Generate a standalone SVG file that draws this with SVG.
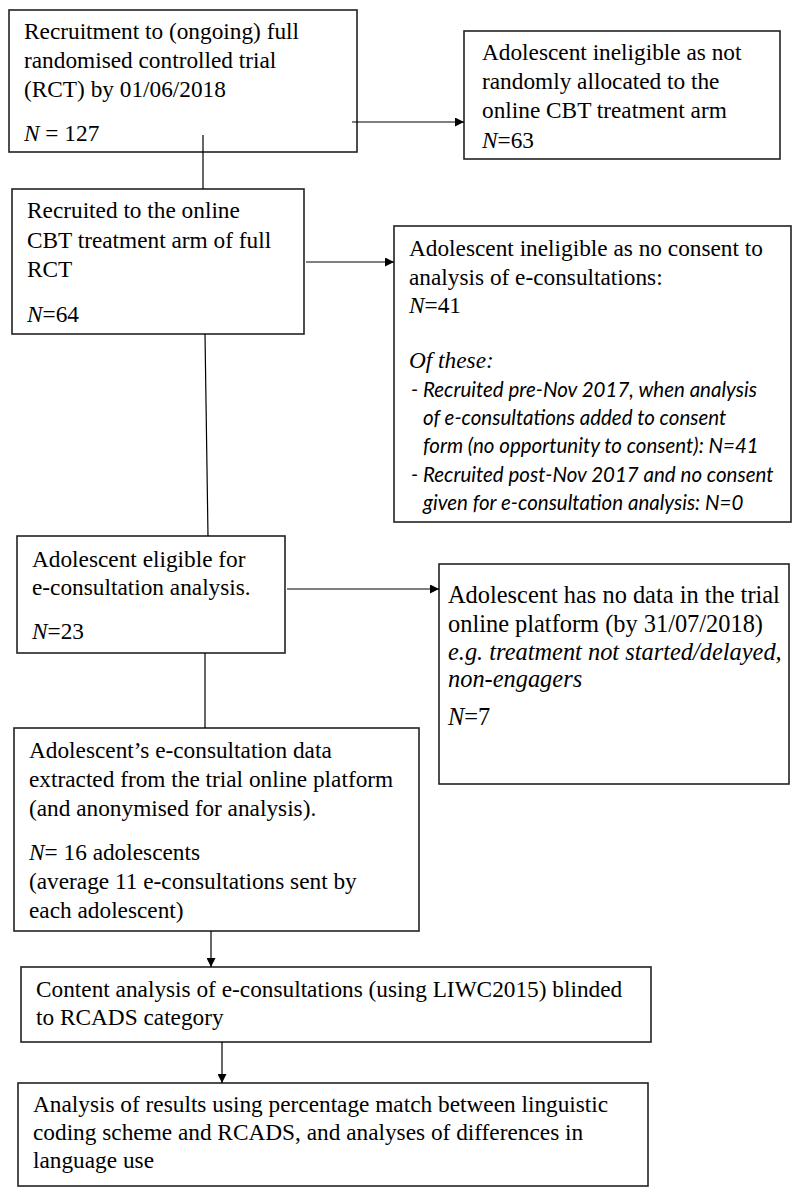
<svg xmlns="http://www.w3.org/2000/svg" width="800" height="1195" viewBox="0 0 800 1195">
<defs>
<marker id="ah" viewBox="0 0 10 10" refX="10" refY="5" markerWidth="10" markerHeight="9" markerUnits="userSpaceOnUse" orient="auto">
<path d="M0,0 L10,5 L0,10 z" fill="#000"/>
</marker>
<style>
.box{fill:#fff;stroke:#222;stroke-width:1.6}
.t{font-family:"Liberation Serif","Times New Roman",serif;font-size:23.3px;fill:#000}
.b{font-size:24.4px}
.i{font-style:italic}
.c{font-family:Lato,"Liberation Sans",sans-serif;font-size:20.5px;font-style:italic;fill:#000}
.ln{stroke:#000;stroke-width:1.2;fill:none}
.ar{stroke:#000;stroke-width:1.2;fill:none;marker-end:url(#ah)}
</style>
</defs>
<rect width="800" height="1195" fill="#fff"/>
<g id="n1">
<rect class="box" x="9" y="10" width="348" height="142"/>
<text class="t" x="24" y="39">Recruitment to (ongoing) full</text>
<text class="t" x="24" y="68">randomised controlled trial</text>
<text class="t" x="24" y="97">(RCT) by 01/06/2018</text>
<text class="t" x="24" y="141"><tspan class="i">N</tspan> = 127</text>
</g>
<g id="n2">
<rect class="box" x="464" y="31" width="316" height="128"/>
<text class="t" x="482" y="60">Adolescent ineligible as not</text>
<text class="t" x="482" y="89">randomly allocated to the</text>
<text class="t" x="482" y="118">online CBT treatment arm</text>
<text class="t" x="482" y="148"><tspan class="i">N</tspan>=63</text>
</g>
<g id="n3">
<rect class="box" x="12" y="189" width="292" height="145"/>
<text class="t" x="27" y="218">Recruited to the online</text>
<text class="t" x="27" y="248">CBT treatment arm of full</text>
<text class="t" x="27" y="277">RCT</text>
<text class="t" x="27" y="322"><tspan class="i">N</tspan>=64</text>
</g>
<g id="n4">
<rect class="box" x="394" y="226" width="397" height="296"/>
<text class="t" x="409" y="256">Adolescent ineligible as no consent to</text>
<text class="t" x="409" y="285">analysis of e-consultations:</text>
<text class="t" x="409" y="313"><tspan class="i">N</tspan>=41</text>
<text class="t i" x="409" y="368">Of these:</text>
<text class="c" x="411" y="397">-</text>
<text class="c" x="423" y="397">Recruited pre-Nov 2017, when analysis</text>
<text class="c" x="423" y="425">of e-consultations added to consent</text>
<text class="c" x="423" y="453">form (no opportunity to consent): N=41</text>
<text class="c" x="411" y="482">-</text>
<text class="c" x="423" y="482">Recruited post-Nov 2017 and no consent</text>
<text class="c" x="423" y="510">given for e-consultation analysis: N=0</text>
</g>
<g id="n5">
<rect class="box" x="17" y="536" width="268" height="117"/>
<text class="t" x="32" y="567">Adolescent eligible for</text>
<text class="t" x="32" y="595">e-consultation analysis.</text>
<text class="t" x="32" y="639"><tspan class="i">N</tspan>=23</text>
</g>
<g id="n6">
<rect class="box" x="439" y="564" width="350" height="220"/>
<text class="t b" x="448" y="603">Adolescent has no data in the trial</text>
<text class="t b" x="448" y="632">online platform (by 31/07/2018)</text>
<text class="t b i" x="448" y="660">e.g. treatment not started/delayed,</text>
<text class="t b i" x="448" y="687">non-engagers</text>
<text class="t b" x="448" y="725"><tspan class="i">N</tspan>=7</text>
</g>
<g id="n7">
<rect class="box" x="14" y="728" width="405" height="203"/>
<text class="t" x="29" y="758">Adolescent’s e-consultation data</text>
<text class="t" x="29" y="787">extracted from the trial online platform</text>
<text class="t" x="29" y="816">(and anonymised for analysis).</text>
<text class="t" x="29" y="860"><tspan class="i">N</tspan>= 16 adolescents</text>
<text class="t" x="29" y="889">(average 11 e-consultations sent by</text>
<text class="t" x="29" y="918">each adolescent)</text>
</g>
<g id="n8">
<rect class="box" x="21" y="967" width="630" height="75"/>
<text class="t" x="36" y="997">Content analysis of e-consultations (using LIWC2015) blinded</text>
<text class="t" x="36" y="1025">to RCADS category</text>
</g>
<g id="n9">
<rect class="box" x="18" y="1083" width="630" height="103"/>
<text class="t" x="33" y="1112">Analysis of results using percentage match between linguistic</text>
<text class="t" x="33" y="1140">coding scheme and RCADS, and analyses of differences in</text>
<text class="t" x="33" y="1168">language use</text>
</g>
<g id="connectors">
<line class="ln" x1="203" y1="135" x2="203" y2="189"/>
<line class="ar" x1="352" y1="122" x2="464" y2="122"/>
<line class="ar" x1="306" y1="262" x2="394" y2="262"/>
<line class="ln" x1="205" y1="334" x2="208" y2="536"/>
<line class="ar" x1="287" y1="589" x2="439" y2="589"/>
<line class="ln" x1="205" y1="653" x2="205" y2="728"/>
<line class="ar" x1="211" y1="931" x2="211" y2="967"/>
<line class="ar" x1="222" y1="1042" x2="222" y2="1083"/>
</g>
</svg>
